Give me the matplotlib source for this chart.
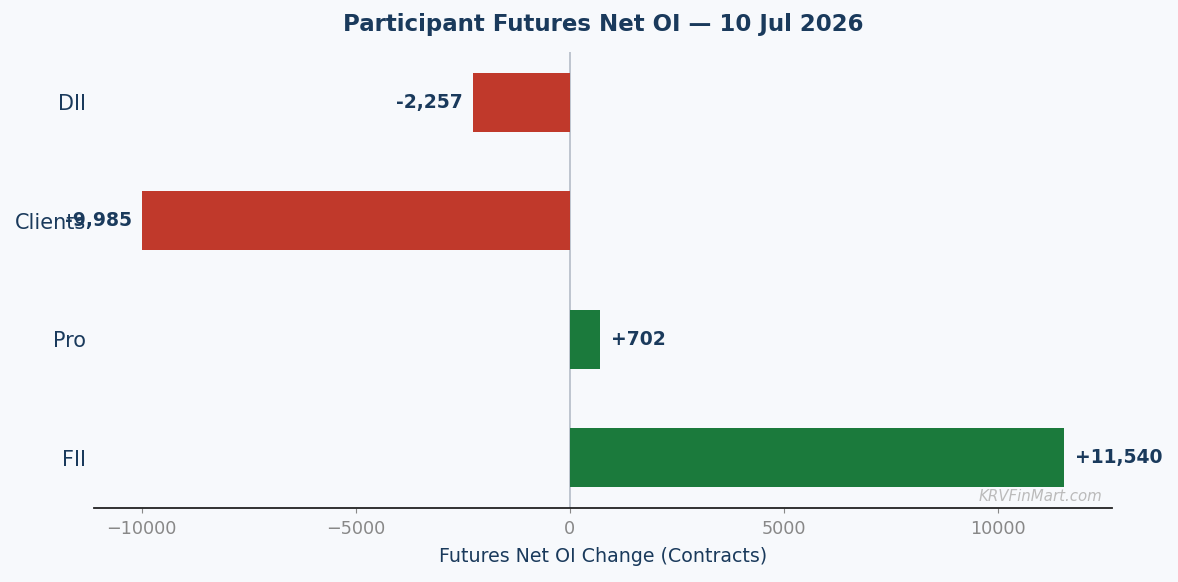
import matplotlib
matplotlib.use('Agg')
import matplotlib.pyplot as plt

# participant wise futures net OI change
participants = ['FII', 'Pro', 'Clients', 'DII']
net_oi = [11540, 702, -9985, -2257]
trade_date = '10 Jul 2026'

navy = '#1a3a5c'
bg = '#f7f9fc'

fig = plt.figure(figsize=(11.78, 5.82), dpi=100, facecolor=bg)
ax = fig.add_axes([0.0798, 0.127, 0.8645, 0.784])
ax.set_facecolor(bg)

colores = ['#1b7a3c' if v >= 0 else '#c0392b' for v in net_oi]
ax.barh(participants, net_oi, height=0.5, color=colores, zorder=2)
ax.axvline(0, color='#b4bcc8', linewidth=1.2, zorder=1)
ax.margins(x=0.0525)

offset = 0.022 * max(abs(v) for v in net_oi)
for i, v in enumerate(net_oi):
    if v >= 0:
        ax.text(v + offset, i, f'+{v:,}', va='center', ha='left',
                fontsize=13.5, fontweight='bold', color=navy, zorder=3)
    else:
        ax.text(v - offset, i, f'{v:,}', va='center', ha='right',
                fontsize=13.5, fontweight='bold', color=navy, zorder=3)

ax.set_title(f'Participant Futures Net OI \u2014 {trade_date}', fontsize=16.5,
             fontweight='bold', color=navy, pad=15)
ax.set_xlabel('Futures Net OI Change (Contracts)', fontsize=13.7, color=navy, labelpad=6.5)

for s in ['top', 'right', 'left']:
    ax.spines[s].set_visible(False)
ax.spines['bottom'].set_color('#222222')
ax.spines['bottom'].set_linewidth(1.3)

ax.tick_params(axis='y', left=False, labelsize=15, labelcolor=navy, pad=2)
ax.tick_params(axis='x', labelsize=12.7, labelcolor='#888888', color='#888888', pad=5)

ax.text(0.99, 0.008, 'KRVFinMart.com', transform=ax.transAxes, ha='right', va='bottom',
        fontsize=10.8, style='italic', color='#bbbbbb', zorder=4)

plt.savefig('out.png', dpi=100, facecolor=bg)
plt.close()
